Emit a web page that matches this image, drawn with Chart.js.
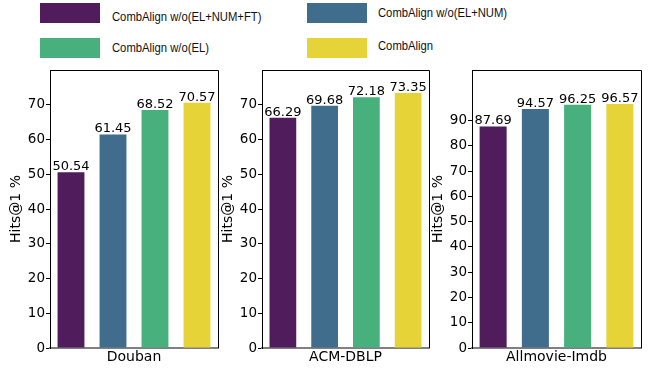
<!DOCTYPE html>
<html>
<head>
<meta charset="utf-8">
<script src="https://cdn.jsdelivr.net/npm/chart.js@4/dist/chart.umd.min.js"></script>
<style>
  html, body { margin: 0; padding: 0; background: #fff; width: 652px; height: 369px; overflow: hidden; }
  .panel { position: absolute; top: 60px; }
  .legend-item { position: absolute; font-family: "Liberation Sans", Arial, sans-serif; font-size: 12.5px; line-height: 14px; color: #111; white-space: nowrap; transform: scaleX(0.9); transform-origin: left center; }
  .swatch { position: absolute; width: 60px; height: 20px; }
</style>
</head>
<body>
<div id="legend"></div>
<div class="panel" style="left:0px"><canvas id="c0" width="224" height="309"></canvas></div>
<div class="panel" style="left:212px"><canvas id="c1" width="223" height="309"></canvas></div>
<div class="panel" style="left:422px"><canvas id="c2" width="225" height="309"></canvas></div>
<script>
// ---- data ----
const categories = ['Douban', 'ACM-DBLP', 'Allmovie-Imdb'];
const seriesNames = ['CombAlign w/o(EL+NUM+FT)', 'CombAlign w/o(EL+NUM)', 'CombAlign w/o(EL)', 'CombAlign'];
const woElNumFt = [50.54, 66.29, 87.69];
const woElNum   = [61.45, 69.68, 94.57];
const woEl      = [68.52, 72.18, 96.25];
const combAlign = [70.57, 73.35, 96.57];
const yAxisMax  = [80, 80, 110];
const yTickLast = [70, 70, 90];
const yTitle = 'Hits@1 %';

const seriesValues = [woElNumFt, woElNum, woEl, combAlign];
const colors = ['#511c5b', '#416d8c', '#47b07c', '#e5d337'];

// ---- legend (HTML) ----
const legendLayout = [
  { sx: 40, sy: 3, tx: 112, ty: 9.7 },
  { sx: 307, sy: 3, tx: 378, ty: 6.2 },
  { sx: 40, sy: 38, tx: 112, ty: 41.4 },
  { sx: 307, sy: 38, tx: 378, ty: 38.7 }
];
const legendEl = document.getElementById('legend');
seriesNames.forEach((name, i) => {
  const L = legendLayout[i];
  const sw = document.createElement('div');
  sw.className = 'swatch';
  sw.style.left = L.sx + 'px'; sw.style.top = L.sy + 'px'; sw.style.background = colors[i];
  legendEl.appendChild(sw);
  const t = document.createElement('div');
  t.className = 'legend-item';
  t.style.left = L.tx + 'px'; t.style.top = L.ty + 'px';
  t.textContent = name;
  legendEl.appendChild(t);
});

// ---- plugins ----
const valueLabels = {
  id: 'valueLabels',
  afterDatasetsDraw(chart) {
    const ctx = chart.ctx;
    ctx.save();
    ctx.font = '13px "DejaVu Sans"';
    ctx.fillStyle = '#000';
    ctx.textAlign = 'center';
    ctx.textBaseline = 'alphabetic';
    chart.data.datasets.forEach((ds, di) => {
      const meta = chart.getDatasetMeta(di);
      meta.data.forEach((bar, j) => {
        ctx.fillText(ds.data[j].toFixed(2), bar.x, bar.y - 2);
      });
    });
    ctx.restore();
  }
};
const frame = {
  id: 'frame',
  afterDraw(chart) {
    const a = chart.chartArea, ctx = chart.ctx;
    ctx.save();
    ctx.strokeStyle = '#000';
    ctx.lineWidth = 1;
    ctx.beginPath();
    ctx.moveTo(Math.round(a.left) + 0.5, Math.round(a.top) + 0.5);
    ctx.lineTo(Math.round(a.right) + 0.5, Math.round(a.top) + 0.5);
    ctx.lineTo(Math.round(a.right) + 0.5, Math.round(a.bottom));
    ctx.stroke();
    ctx.restore();
  }
};

Chart.defaults.font.family = '"DejaVu Sans"';
Chart.defaults.color = '#000';

categories.forEach((cat, i) => {
  new Chart(document.getElementById('c' + i), {
    type: 'bar',
    data: {
      labels: [cat],
      datasets: seriesNames.map((n, k) => ({
        label: n,
        data: [seriesValues[k][i]],
        backgroundColor: colors[k],
        borderWidth: 0,
        categoryPercentage: 1.0,
        barPercentage: 0.64
      }))
    },
    options: {
      responsive: false,
      animation: false,
      devicePixelRatio: 1,
      layout: { padding: { top: 10, right: 6, left: 0, bottom: 0 } },
      plugins: { legend: { display: false }, tooltip: { enabled: false } },
      scales: {
        x: {
          type: 'category',
          grid: { display: false, drawTicks: false },
          border: { display: true, color: '#808080', width: 2 },
          ticks: { font: { size: 14 }, padding: 1, color: '#000' },
          afterFit(scale) { scale.height = 21; }
        },
        y: {
          min: 0,
          max: yAxisMax[i],
          grid: { display: true, drawOnChartArea: false, drawTicks: true, tickLength: 4, color: '#000', lineWidth: 1 },
          border: { display: true, color: '#000', width: 1 },
          ticks: { stepSize: 10, font: { size: 13.5 }, padding: 1, color: '#000' },
          afterBuildTicks(scale) { scale.ticks = scale.ticks.filter(t => t.value <= yTickLast[i]); },
          title: { display: true, text: yTitle, font: { size: 14 }, padding: { top: 8, bottom: 0 }, color: '#000' },
          afterFit(scale) { scale.width = 50; }
        }
      }
    },
    plugins: [valueLabels, frame]
  });
});
</script>
</body>
</html>
